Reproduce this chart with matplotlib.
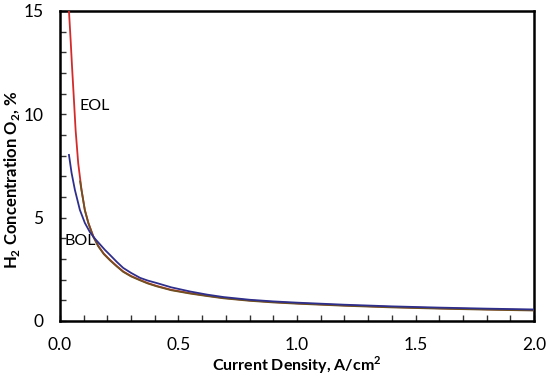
import matplotlib
matplotlib.use("Agg")
import matplotlib.pyplot as plt
from matplotlib.ticker import MultipleLocator

plt.rcParams['font.family'] = ['Lato', 'DejaVu Sans']
plt.rcParams['mathtext.fontset'] = 'custom'
plt.rcParams['mathtext.rm'] = 'Lato'
plt.rcParams['mathtext.bf'] = 'Lato:bold'

# EOL series (red)
x_eol = [0.038, 0.045, 0.051, 0.058, 0.066, 0.077, 0.091, 0.105, 0.12, 0.141, 0.162,
         0.185, 0.211, 0.24, 0.267, 0.3, 0.338, 0.37, 0.408, 0.47, 0.549, 0.62, 0.69,
         0.8, 0.9, 1.0, 1.2, 1.4, 1.6, 1.8, 2.0]
eol = [15.0, 13.6, 12.3, 10.9, 9.24, 7.63, 6.34, 5.37, 4.74, 4.08, 3.62,
       3.25, 2.95, 2.65, 2.39, 2.17, 1.98, 1.83, 1.69, 1.5, 1.34, 1.22, 1.11,
       0.99, 0.91, 0.85, 0.75, 0.67, 0.61, 0.56, 0.52]

# overlapping brownish trace seen along the lower part of EOL
x_brn = [0.085, 0.091, 0.105, 0.12, 0.141, 0.162, 0.185, 0.211, 0.24, 0.267, 0.3,
         0.338, 0.37, 0.408, 0.47, 0.549, 0.62, 0.69, 0.8, 0.9, 1.0, 1.2, 1.4, 1.6,
         1.8, 2.0]
brn = [6.75, 6.32, 5.35, 4.72, 4.06, 3.6, 3.23, 2.93, 2.63, 2.37, 2.15,
       1.96, 1.81, 1.67, 1.48, 1.32, 1.2, 1.09, 0.97, 0.89, 0.83, 0.73, 0.65, 0.59,
       0.54, 0.5]

# BOL series (blue)
x_bol = [0.038, 0.049, 0.063, 0.084, 0.105, 0.127, 0.148, 0.169, 0.19, 0.211, 0.24,
         0.267, 0.3, 0.338, 0.37, 0.408, 0.47, 0.549, 0.62, 0.69, 0.8, 0.9, 1.0,
         1.2, 1.4, 1.6, 1.8, 2.0]
bol = [8.03, 7.16, 6.34, 5.37, 4.74, 4.28, 3.97, 3.7, 3.43, 3.19, 2.85,
       2.56, 2.32, 2.08, 1.95, 1.83, 1.62, 1.42, 1.27, 1.15, 1.02, 0.94, 0.88,
       0.78, 0.7, 0.64, 0.59, 0.55]

fig = plt.figure(figsize=(5.5, 3.77), dpi=100)
ax = fig.add_axes([0.109, 0.149, 0.862, 0.822])

ax.plot(x_eol, eol, color='#d42a2a', lw=1.3, zorder=3)
ax.plot(x_brn, brn, color='#6e5222', lw=1.3, zorder=4)
ax.plot(x_bol, bol, color='#2e2f8c', lw=1.3, zorder=5)

ax.text(0.084, 10.4, 'EOL', fontsize=11.5, va='center', ha='left')
ax.text(0.021, 3.87, 'BOL', fontsize=11.5, va='center', ha='left')

ax.set_xlim(0, 2.0)
ax.set_ylim(0, 15)
ax.xaxis.set_major_locator(MultipleLocator(0.5))
ax.xaxis.set_minor_locator(MultipleLocator(0.1))
ax.yaxis.set_major_locator(MultipleLocator(5))
ax.yaxis.set_minor_locator(MultipleLocator(1))
ax.xaxis.set_major_formatter(plt.FuncFormatter(lambda v, p: f'{v:.1f}'))
ax.tick_params(which='both', direction='in', length=4, width=1, labelsize=12.5, color='#333333')
ax.tick_params(axis='x', pad=12)
ax.tick_params(axis='y', pad=12)

for s in ax.spines.values():
    s.set_linewidth(1.8)
    s.set_color('black')

ax.set_xlabel('Current Density, A/cm$^\\mathbf{2}$', fontsize=11.5, fontweight='bold', labelpad=1)
ax.set_ylabel('H$_\\mathbf{2}$ Concentration O$_\\mathbf{2}$, %', fontsize=12, fontweight='bold')
ax.yaxis.set_label_coords(-0.08, 0.455)

fig.savefig('out.png', dpi=100)
